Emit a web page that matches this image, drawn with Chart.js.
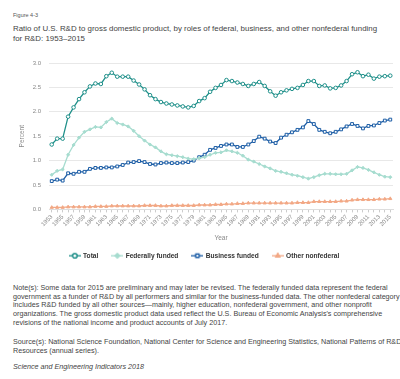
<!DOCTYPE html>
<html><head><meta charset="utf-8">
<script src="https://cdn.jsdelivr.net/npm/chart.js@4.4.1/dist/chart.umd.min.js"></script>
<style>
body{margin:0;width:400px;height:379px;position:relative;font-family:"Liberation Sans",Arial,sans-serif;background:#fff;overflow:hidden}
.t{position:absolute;left:13px;white-space:nowrap;color:#444}
</style></head><body>
<div class="t" style="top:12px;font-size:5.5px;color:#555">Figure 4-3</div>
<div class="t" style="top:24px;font-size:7.9px;line-height:10px">Ratio of U.S. R&amp;D to gross domestic product, by roles of federal, business, and other nonfederal funding<br>for R&amp;D: 1953–2015</div>
<div id="wrap" style="position:absolute;left:0;top:48px;width:400px;height:221px"><canvas id="c"></canvas></div>
<div class="t" style="top:284px;font-size:7.2px;line-height:8.7px">Note(s): Some data for 2015 are preliminary and may later be revised. The federally funded data represent the federal<br>government as a funder of R&amp;D by all performers and similar for the business-funded data. The other nonfederal category<br>includes R&amp;D funded by all other sources—mainly, higher education, nonfederal government, and other nonprofit<br>organizations. The gross domestic product data used reflect the U.S. Bureau of Economic Analysis's comprehensive<br>revisions of the national income and product accounts of July 2017.</div>
<div class="t" style="top:338px;font-size:7.2px;line-height:8.7px">Source(s): National Science Foundation, National Center for Science and Engineering Statistics, National Patterns of R&amp;D<br>Resources (annual series).</div>
<div class="t" style="top:363px;font-size:7.2px;line-height:8.7px;font-style:italic">Science and Engineering Indicators 2018</div>
<script>
const years = [];
for (let y = 1953; y <= 2015; y++) years.push(String(y));

const total = [1.33,1.45,1.45,1.90,2.09,2.26,2.40,2.52,2.58,2.57,2.73,2.80,2.72,2.72,2.72,2.64,2.56,2.46,2.34,2.26,2.20,2.17,2.15,2.13,2.11,2.09,2.12,2.22,2.28,2.41,2.49,2.55,2.65,2.63,2.60,2.57,2.53,2.57,2.61,2.53,2.42,2.33,2.40,2.44,2.47,2.49,2.55,2.63,2.63,2.53,2.54,2.48,2.49,2.54,2.63,2.77,2.81,2.73,2.76,2.68,2.72,2.73,2.74];
const federal = [0.71,0.79,0.82,1.12,1.32,1.47,1.59,1.64,1.69,1.68,1.79,1.86,1.77,1.74,1.70,1.61,1.50,1.41,1.33,1.27,1.19,1.13,1.11,1.09,1.07,1.04,1.03,1.05,1.07,1.12,1.16,1.17,1.21,1.19,1.16,1.10,1.02,0.98,0.93,0.88,0.84,0.79,0.77,0.74,0.71,0.69,0.66,0.63,0.66,0.70,0.73,0.73,0.72,0.72,0.73,0.80,0.87,0.85,0.81,0.76,0.71,0.67,0.66];
const business = [0.58,0.61,0.59,0.74,0.73,0.77,0.77,0.83,0.85,0.85,0.86,0.86,0.88,0.91,0.96,0.97,0.99,0.97,0.93,0.92,0.95,0.96,0.95,0.95,0.96,0.97,1.00,1.07,1.12,1.22,1.26,1.30,1.33,1.33,1.28,1.28,1.33,1.40,1.49,1.45,1.39,1.36,1.47,1.53,1.58,1.63,1.68,1.81,1.75,1.63,1.59,1.56,1.59,1.64,1.70,1.75,1.71,1.66,1.71,1.72,1.77,1.82,1.84];
const other = [0.04,0.04,0.04,0.05,0.05,0.05,0.05,0.05,0.06,0.06,0.06,0.07,0.07,0.07,0.07,0.07,0.07,0.08,0.08,0.08,0.07,0.07,0.08,0.08,0.08,0.08,0.08,0.09,0.09,0.09,0.10,0.10,0.11,0.11,0.12,0.12,0.13,0.13,0.13,0.13,0.13,0.13,0.13,0.13,0.13,0.14,0.14,0.14,0.16,0.16,0.16,0.16,0.16,0.17,0.17,0.19,0.20,0.20,0.20,0.20,0.21,0.21,0.22];
const yTicks = [0, 0.5, 1.0, 1.5, 2.0, 2.5, 3.0];

const C_TOTAL = '#1e8f89', C_FED = '#a6dccf', C_BUS = '#1d5ea6', C_OTH = '#f2a885';

function icon(color, style, fill) {
  const c = document.createElement('canvas');
  c.width = 12; c.height = 8;
  const x = c.getContext('2d');
  x.strokeStyle = color; x.lineWidth = 1.3;
  x.beginPath(); x.moveTo(0, 4); x.lineTo(12, 4); x.stroke();
  Chart.helpers.drawPoint(x, {pointStyle: style, radius: 2.2, borderWidth: 1}, 6, 4);
  x.fillStyle = fill; x.fill(); x.stroke();
  return c;
}

const ds = [
  {label:'Total', data: total, borderColor: C_TOTAL, backgroundColor: C_TOTAL, pointStyle:'circle', pointRadius:1.8, pointBackgroundColor:'#fff', pointBorderColor:C_TOTAL, pointBorderWidth:1, borderWidth:1.3, fillC:'#fff'},
  {label:'Federally funded', data: federal, borderColor: C_FED, backgroundColor: C_FED, pointStyle:'rectRot', pointRadius:1.6, pointBackgroundColor:C_FED, pointBorderColor:C_FED, pointBorderWidth:1, borderWidth:1.3, fillC:C_FED},
  {label:'Business funded', data: business, borderColor: C_BUS, backgroundColor: C_BUS, pointStyle:'rect', pointRadius:2, pointBackgroundColor:'#fff', pointBorderColor:C_BUS, pointBorderWidth:1, borderWidth:1.3, fillC:'#fff'},
  {label:'Other nonfederal', data: other, borderColor: C_OTH, backgroundColor: C_OTH, pointStyle:'triangle', pointRadius:1.8, pointBackgroundColor:C_OTH, pointBorderColor:C_OTH, pointBorderWidth:1, borderWidth:1.3, fillC:C_OTH}
];

new Chart(document.getElementById('c'), {
  type: 'line',
  data: { labels: years, datasets: ds },
  options: {
    responsive: true, maintainAspectRatio: false, animation: false,
    layout: { padding: { left: 16, right: 7, top: 15, bottom: 0 } },
    elements: { line: { tension: 0 } },
    plugins: {
      tooltip: { enabled: false },
      legend: {
        position: 'bottom',
        labels: {
          usePointStyle: true, pointStyleWidth: 10, boxHeight: 7,
          color: '#333', font: { size: 6.6, weight: 'bold', family: '"Liberation Sans", Arial, sans-serif' },
          padding: 14,
          generateLabels: (chart) => chart.data.datasets.map((d, i) => ({
            text: d.label, pointStyle: icon(d.borderColor, d.pointStyle, d.fillC),
            fillStyle: d.borderColor, strokeStyle: d.borderColor, lineWidth: 0,
            datasetIndex: i, fontColor: '#333'
          }))
        }
      }
    },
    scales: {
      y: {
        min: 0, max: 3,
        afterFit: s => { s.width = 33; },
        afterBuildTicks: s => { s.ticks = yTicks.map(v => ({ value: v })); },
        ticks: { color: '#888', font: { size: 6 }, padding: 8, callback: v => Number(v).toFixed(1) },
        grid: { color: '#e8e8e8', drawTicks: false, lineWidth: 1 },
        border: { display: false },
        title: { display: true, text: 'Percent', color: '#888', font: { size: 6.5 }, padding: { top: 2, bottom: 0 } }
      },
      x: {
        offset: true,
        afterFit: s => { s.height = 29; },
        ticks: { autoSkip: false, maxRotation: 45, minRotation: 45, color: '#888', font: { size: 6 }, padding: 1,
          callback: function (v, i) { return i % 2 === 0 ? years[i] : ''; } },
        grid: { display: true, drawOnChartArea: false, tickLength: 3, color: '#ccc' },
        border: { display: true, color: '#ddd' },
        title: { display: true, text: 'Year', color: '#888', font: { size: 6.5 }, padding: { top: 0, bottom: -4 } }
      }
    }
  }
});
</script>
</body></html>
